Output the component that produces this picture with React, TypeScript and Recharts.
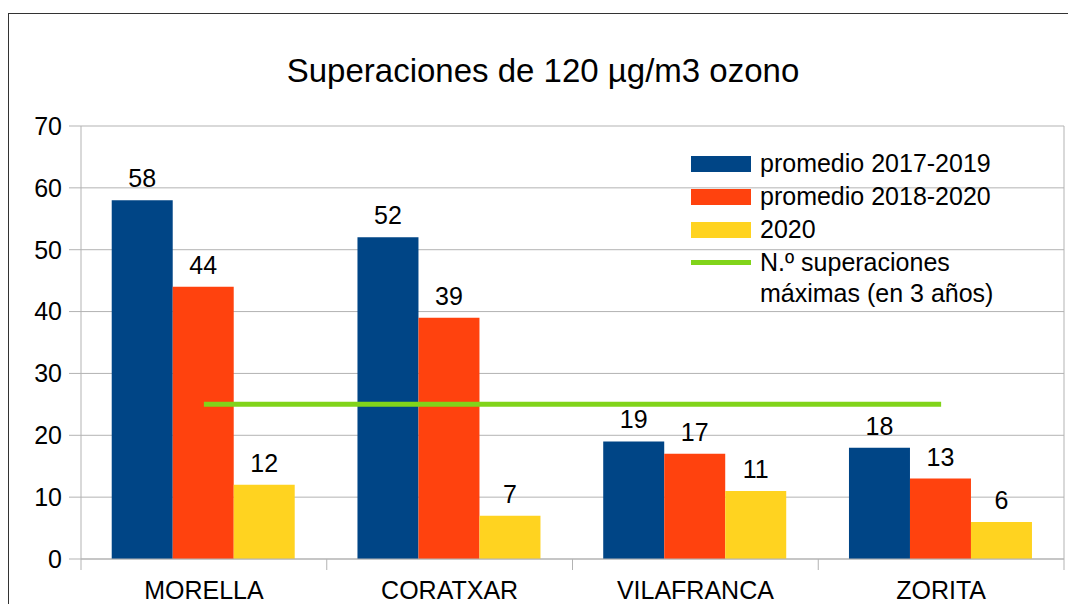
import React from 'react';
import { ComposedChart, Bar, Line, XAxis, YAxis, CartesianGrid, LabelList } from 'recharts';

const categories = ['MORELLA', 'CORATXAR', 'VILAFRANCA', 'ZORITA'];
const promedio20172019 = [58, 52, 19, 18];
const promedio20182020 = [44, 39, 17, 13];
const values2020 = [12, 7, 11, 6];
const maxSuperaciones = [25, 25, 25, 25];
const yTicks = [0, 10, 20, 30, 40, 50, 60, 70];

const seriesNames = ['promedio 2017-2019', 'promedio 2018-2020', '2020', 'N.º superaciones máximas (en 3 años)'];
const seriesColors = ['#004586', '#ff420e', '#ffd320', '#81d41a'];
const title = 'Superaciones de 120 µg/m3 ozono';

const data = categories.map((name, i) => ({
  name,
  a: promedio20172019[i],
  b: promedio20182020[i],
  c: values2020[i],
  max: maxSuperaciones[i],
}));

const FONT = '"Liberation Sans", Arial, sans-serif';
const GRID = '#b3b3b3';

const XTick = (props: any) => {
  const { x, y, payload, index, width, visibleTicksCount } = props;
  const cw = width && visibleTicksCount ? width / visibleTicksCount : 245.75;
  const axisY = y - 11;
  const left = x - cw / 2;
  const right = x + cw / 2;
  return (
    <g>
      <line x1={left} x2={left} y1={axisY} y2={axisY + 11} stroke={GRID} strokeWidth={1} />
      {index === (visibleTicksCount || 4) - 1 && (
        <line x1={right} x2={right} y1={axisY} y2={axisY + 11} stroke={GRID} strokeWidth={1} />
      )}
      <text x={x} y={axisY + 40} textAnchor="middle" fontSize={25} fill="#000" fontFamily={FONT}>
        {payload.value}
      </text>
    </g>
  );
};

export default function App() {
  return (
    <div style={{ position: 'relative', width: 1060, height: 596, overflow: 'hidden', fontFamily: FONT, background: '#fff' }}>
      <div style={{ position: 'absolute', left: 0, top: 5, width: 1100, height: 700, borderTop: '1px solid #333', borderLeft: '1px solid #333' }} />
      <div style={{ position: 'absolute', left: 0, top: 46, width: 1070, textAlign: 'center', fontSize: 33, lineHeight: '33px', color: '#000' }}>
        {title}
      </div>
      <div style={{ position: 'absolute', left: 0, top: 0 }}>
        <ComposedChart
          width={1060}
          height={596}
          data={data}
          margin={{ top: 118, right: 4, left: 13, bottom: 15 }}
          barCategoryGap="12.5%"
          barGap={0}
        >
          <CartesianGrid
            stroke={GRID}
            horizontal={true}
            vertical={true}
            verticalCoordinatesGenerator={({ offset }: any) => [offset.left + offset.width]}
          />
          <XAxis
            dataKey="name"
            height={30}
            tickLine={false}
            tickSize={11}
            tickMargin={0}
            axisLine={{ stroke: GRID }}
            tick={<XTick />}
            interval={0}
          />
          <YAxis
            width={60}
            domain={[0, 70]}
            ticks={yTicks}
            interval={0}
            tickSize={12}
            tickMargin={7}
            tickLine={{ stroke: GRID }}
            axisLine={{ stroke: GRID }}
            tick={{ fontSize: 25, fill: '#000', fontFamily: FONT }}
          />
          <Bar dataKey="a" fill={seriesColors[0]} isAnimationActive={false}>
            <LabelList dataKey="a" position="top" offset={13} fontSize={25} fill="#000" fontFamily={FONT} />
          </Bar>
          <Bar dataKey="b" fill={seriesColors[1]} isAnimationActive={false}>
            <LabelList dataKey="b" position="top" offset={13} fontSize={25} fill="#000" fontFamily={FONT} />
          </Bar>
          <Bar dataKey="c" fill={seriesColors[2]} isAnimationActive={false}>
            <LabelList dataKey="c" position="top" offset={13} fontSize={25} fill="#000" fontFamily={FONT} />
          </Bar>
          <Line dataKey="max" stroke={seriesColors[3]} strokeWidth={5} dot={false} activeDot={false} isAnimationActive={false} />
        </ComposedChart>
      </div>
      <div style={{ position: 'absolute', left: 683, top: 139, fontSize: 25, color: '#000' }}>
        {seriesNames.map((n, i) => (
          <div key={n} style={{ position: 'relative', paddingLeft: 69, lineHeight: i === 3 ? '31px' : '33px', width: 250, marginTop: i === 3 ? 1 : 0 }}>
            {i < 3 ? (
              <div style={{ position: 'absolute', left: 0, top: 9, width: 60, height: 16, background: seriesColors[i] }} />
            ) : (
              <div style={{ position: 'absolute', left: 0, top: 13, width: 60, height: 5, background: seriesColors[i] }} />
            )}
            {n}
          </div>
        ))}
      </div>
    </div>
  );
}
